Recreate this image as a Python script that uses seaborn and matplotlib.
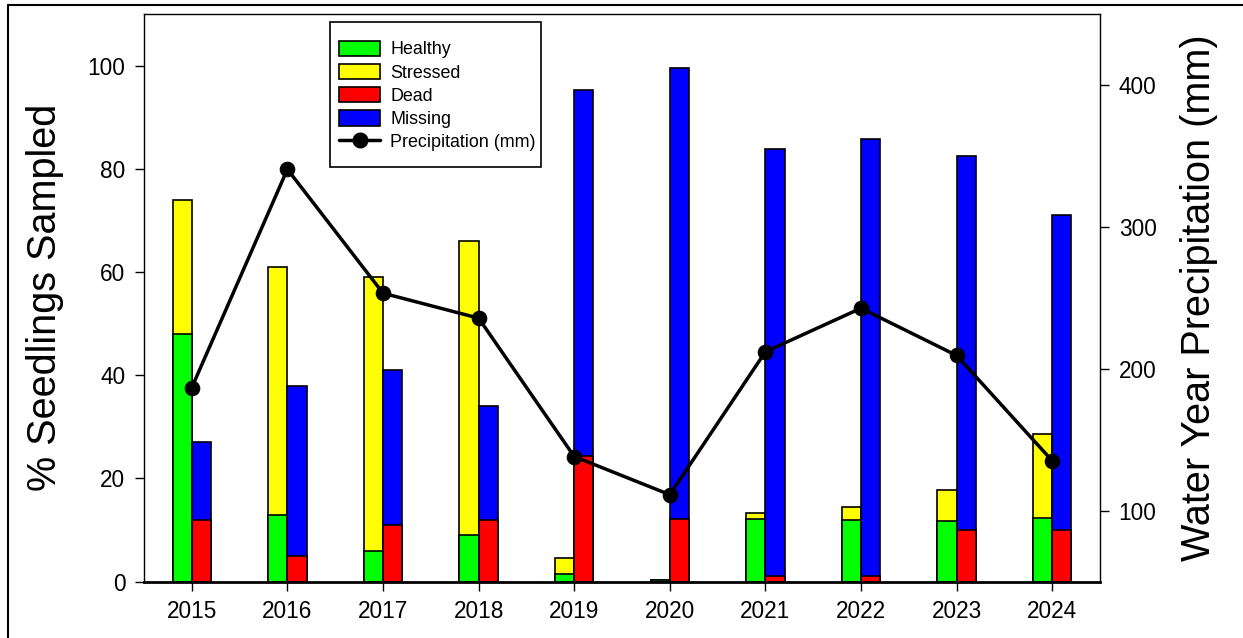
import matplotlib
matplotlib.use("Agg")
import matplotlib.pyplot as plt
from matplotlib.patches import Patch, Rectangle
from matplotlib.lines import Line2D
import numpy as np
import seaborn as sns

# Seedling condition by survey year (% of seedlings sampled)
years = [2015, 2016, 2017, 2018, 2019, 2020, 2021, 2022, 2023, 2024]
healthy = [48, 13, 6, 9, 1.4, 0.3, 12.2, 12.0, 11.8, 12.3]
stressed = [26, 48, 53, 57, 3.1, 0, 1.2, 2.4, 5.9, 16.4]
dead = [12, 5, 11, 12, 24.4, 12.2, 1.2, 1.2, 10, 10]
missing = [15.1, 33, 30.1, 22, 70.9, 87.4, 82.7, 84.5, 72.4, 61]

# Water-year precipitation (mm)
precip = [186.8, 340.6, 253.3, 235.7, 138.2, 111.3, 212, 242.7, 209.4, 135.2]

category_labels = ["Healthy", "Stressed", "Dead", "Missing"]
category_colors = ["#00ff00", "#ffff00", "#ff0000", "#0000ff"]
precip_label = "Precipitation (mm)"

sns.set_style("ticks")
plt.rcParams["font.family"] = ["Liberation Sans", "DejaVu Sans"]
plt.rcParams.update({
    "text.color": "black",
    "axes.labelcolor": "black",
    "axes.edgecolor": "black",
    "xtick.color": "black",
    "ytick.color": "black",
})

W, H = 1243, 638
ax_left, ax_right, ax_top, ax_bottom = 144, 1100, 14, 581.7

fig = plt.figure(figsize=(W / 100, H / 100), dpi=100)
ax = fig.add_axes([ax_left / W, 1 - ax_bottom / H,
                   (ax_right - ax_left) / W, (ax_bottom - ax_top) / H])


def to_axes(px, py):
    """Pixel position in the figure -> axes fraction."""
    return ((px - ax_left) / (ax_right - ax_left),
            (ax_bottom - py) / (ax_bottom - ax_top))


yr = np.array(years, dtype=float)
h = np.array(healthy)
s = np.array(stressed)
d = np.array(dead)
m = np.array(missing)

bar_kw = dict(native_scale=True, width=0.2, saturation=1, edgecolor="black",
              linewidth=1.2, errorbar=None, ax=ax)

# Left bar of each year: healthy with stressed stacked on top
sns.barplot(x=yr - 0.1, y=h + s, color=category_colors[1], **bar_kw)
sns.barplot(x=yr - 0.1, y=h, color=category_colors[0], **bar_kw)
# Right bar of each year: dead with missing stacked on top
sns.barplot(x=yr + 0.1, y=d + m, color=category_colors[3], **bar_kw)
sns.barplot(x=yr + 0.1, y=d, color=category_colors[2], **bar_kw)

ax.set_xlim(2014.5, 2024.5)
ax.set_ylim(0, 110)
ax.set_xticks(years)
ax.set_xticklabels([str(y) for y in years])
ax.set_yticks([0, 20, 40, 60, 80, 100])
ax.set_xlabel("")
ax.set_ylabel("% Seedlings Sampled", fontsize=28.5)
ax.yaxis.set_label_coords(-0.0837, 0.5)
ax.tick_params(axis="both", which="major", labelsize=16.3, length=6.5, width=1,
               color="black", labelcolor="black", direction="out", pad=7)
ax.tick_params(axis="x", top=False)
for side in ["left", "right", "top"]:
    ax.spines[side].set_linewidth(1.0)
    ax.spines[side].set_color("black")
ax.spines["bottom"].set_linewidth(2.0)
ax.spines["bottom"].set_color("black")

# Precipitation on a secondary axis
ax2 = ax.twinx()
sns.lineplot(x=yr, y=precip, ax=ax2, color="black", linewidth=2.5, marker="o",
             markersize=10.5, markeredgecolor="black", markerfacecolor="black")
ax2.set_xlim(2014.5, 2024.5)
ax2.set_ylim(50, 450)
ax2.set_yticks([100, 200, 300, 400])
ax2.set_ylabel("Water Year Precipitation (mm)", fontsize=28.5)
ax2.yaxis.set_label_coords(1.0837, 0.5)
ax2.tick_params(axis="y", labelsize=16.3, length=6.5, width=1, color="black",
                labelcolor="black", direction="out", pad=7, right=True)
for side in ["left", "right", "top", "bottom"]:
    ax2.spines[side].set_visible(False)

# Legend frame, drawn as its own box so the padding can differ per side
fx0, fy1 = to_axes(330, 21.7)
fx1, fy0 = to_axes(541, 167)
ax2.add_patch(Rectangle((fx0, fy0), fx1 - fx0, fy1 - fy0, transform=ax2.transAxes,
                        facecolor="white", edgecolor="black", linewidth=1.2,
                        zorder=4, clip_on=False))

handles = [Patch(facecolor=c, edgecolor="black", linewidth=1.2) for c in category_colors]
handles.append(Line2D([0], [0], color="black", linewidth=2.5, marker="o", markersize=10.5))
labels = category_labels + [precip_label]
leg = ax2.legend(handles, labels, loc="upper left",
                 bbox_to_anchor=to_axes(339, 40.5),
                 fontsize=12.9, frameon=False, borderpad=0, labelspacing=0.3,
                 handlelength=2.3, handleheight=0.95, handletextpad=0.56,
                 borderaxespad=0)
leg.set_zorder(5)

# Outer frame lines along the top and left of the figure
fig.add_artist(Line2D([8 / W, 1.0], [1 - 5 / H, 1 - 5 / H],
                      transform=fig.transFigure, color="black", linewidth=1.5))
fig.add_artist(Line2D([8 / W, 8 / W], [0.0, 1 - 5 / H],
                      transform=fig.transFigure, color="black", linewidth=1.5))

fig.savefig("out.png", dpi=100)
